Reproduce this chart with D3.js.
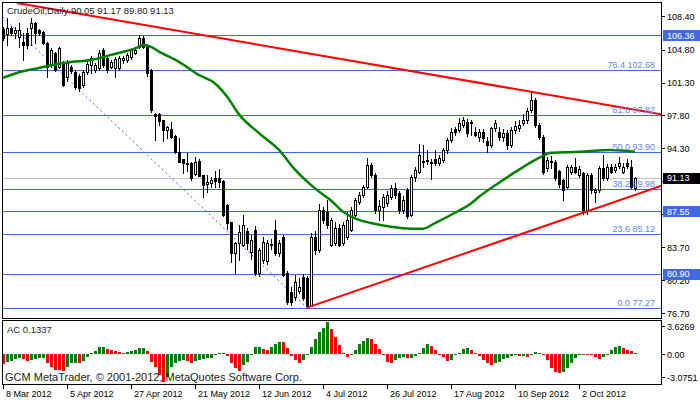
<!DOCTYPE html>
<html>
<head>
<meta charset="utf-8">
<script src="https://cdn.jsdelivr.net/npm/d3@7"></script>
<style>
  body { margin: 0; background: #fff; }
  svg { display: block; }
  text { font-family: "Liberation Sans", Arial, sans-serif; }
</style>
</head>
<body>
<div id="chart"></div>
<script>
// ---- data ----
const dateLabels = ["8 Mar 2012", "5 Apr 2012", "27 Apr 2012", "21 May 2012", "12 Jun 2012",
  "4 Jul 2012", "26 Jul 2012", "17 Aug 2012", "10 Sep 2012", "2 Oct 2012"]
const dateBars = [0, 16, 32, 48, 64, 80, 96, 112, 128, 144]

const opens = [
  107.0,106.5,107.1,106.6,106.2,105.6,106.6,107.1,107.6,106.9,
  106.7,105.5,103.2,104.4,103.0,103.5,101.9,103.0,102.4,102.0,
  101.0,102.4,103.2,102.6,102.9,104.8,103.9,103.0,102.8,102.8,
  103.7,103.7,104.0,104.5,105.1,106.1,105.3,102.6,97.9,97.9,
  97.3,96.2,96.3,95.6,93.9,93.1,92.7,92.7,91.5,92.9,
  91.4,90.5,90.6,91.1,91.1,90.8,88.2,86.4,83.1,84.2,
  84.0,85.4,83.2,85.6,81.0,82.4,82.2,84.1,85.6,83.1,
  84.8,81.0,78.9,78.4,79.0,80.5,80.4,77.5,84.8,83.4,
  87.7,87.5,84.0,84.2,85.8,84.2,84.8,85.6,87.2,88.5,
  89.3,90.1,92.5,91.4,87.7,88.0,88.4,89.1,90.0,89.5,
  87.7,89.8,87.2,91.2,91.8,92.9,92.9,92.8,93.1,92.7,
  93.0,94.1,95.2,96.3,96.2,96.8,97.1,97.0,96.0,95.5,
  96.0,95.1,94.6,96.4,96.0,95.5,95.9,94.6,96.2,96.4,
  97.0,97.3,98.4,99.4,96.8,95.5,92.2,92.8,92.8,91.9,
  90.9,90.2,91.8,92.3,91.4,91.6,87.7,91.4,89.6,89.8,
  92.2,91.1,92.3,92.0,92.4,91.8,92.7,92.3,90.05]
const highs = [
  107.2,108.2,107.3,107.2,107.6,106.6,107.1,108.2,107.8,107.0,
  106.8,105.6,105.0,104.6,105.1,103.6,103.7,103.2,102.6,102.2,
  102.6,103.6,104.1,103.4,104.8,105.0,104.2,103.7,104.0,104.1,
  104.1,104.4,104.9,105.0,106.4,106.3,105.4,102.7,98.0,98.0,
  97.3,96.7,97.1,95.7,95.4,93.1,93.8,92.8,93.3,93.1,
  91.4,91.4,91.2,91.9,92.1,90.9,88.3,86.4,84.3,86.1,
  87.2,85.8,85.0,86.0,83.6,84.8,84.5,84.6,86.6,84.5,
  85.0,81.2,79.5,80.8,80.4,80.9,80.6,85.2,85.5,88.3,
  88.0,88.8,86.8,86.4,86.2,86.4,87.5,88.0,89.0,89.6,
  90.4,93.2,92.7,91.6,88.8,89.4,89.7,90.4,90.6,89.7,
  89.2,90.0,91.4,92.3,94.7,94.6,94.1,93.1,94.1,93.6,
  94.3,95.4,96.4,96.5,97.5,97.6,97.4,97.3,96.6,96.3,
  96.3,95.5,96.6,97.3,96.6,96.3,96.2,96.6,97.2,97.3,
  97.9,98.6,100.4,99.6,97.0,95.7,93.3,93.5,93.0,92.0,
  91.0,92.5,92.5,93.2,92.4,91.8,91.6,91.6,90.0,92.4,
  93.6,92.6,92.6,92.6,93.3,92.7,93.1,93.0,91.17]
const lows = [
  105.8,105.3,106.4,106.0,105.1,103.7,105.0,105.3,105.5,106.4,
  105.4,101.9,103.0,102.5,102.8,100.9,101.5,102.3,100.6,100.4,
  100.8,102.2,102.3,102.4,102.6,103.0,102.4,102.8,101.9,102.6,
  103.4,103.5,103.8,104.3,105.0,105.0,102.0,98.2,95.2,96.8,
  95.1,95.4,95.4,93.8,92.8,91.6,91.9,90.9,91.4,91.3,
  89.1,89.6,90.2,90.2,90.2,87.1,85.7,82.1,81.0,82.4,
  83.9,83.5,82.5,80.8,80.7,82.0,81.9,83.5,82.9,82.8,
  80.6,77.7,77.6,78.1,78.8,78.1,77.27,77.4,83.0,83.2,
  86.3,85.8,83.8,84.0,83.8,84.0,84.6,85.4,87.0,88.3,
  89.1,90.0,91.2,87.4,86.6,86.6,88.1,88.9,89.0,87.4,
  87.4,86.8,87.0,90.8,91.6,92.3,92.6,91.0,92.5,92.5,
  92.8,93.8,94.9,95.7,96.0,96.5,95.6,95.7,95.6,95.1,
  94.9,93.9,94.4,96.1,95.2,95.1,94.2,94.4,95.9,96.1,
  96.8,97.0,98.2,96.6,95.3,91.5,91.9,92.2,90.9,90.2,
  88.8,90.0,91.5,91.6,91.2,87.3,87.3,89.5,88.6,89.6,
  90.9,90.9,91.6,91.7,92.2,91.6,92.2,90.0,89.80]
const closes = [
  106.1,107.1,106.6,106.9,106.9,105.3,105.3,107.6,106.6,106.6,
  105.5,103.0,104.8,102.6,105.0,101.0,103.4,102.5,100.8,100.7,
  102.4,103.3,103.9,103.2,104.5,103.2,102.6,103.5,103.8,103.9,
  103.9,104.2,104.8,104.8,106.1,105.1,102.3,98.4,97.7,97.2,
  96.2,96.5,95.5,93.9,92.8,92.7,92.6,91.1,92.8,91.3,
  90.4,90.7,90.9,90.8,90.7,87.2,86.3,83.1,84.2,85.3,
  86.1,84.2,84.5,81.0,83.4,84.3,84.2,84.0,83.1,84.2,
  80.8,77.9,77.9,80.0,79.5,78.3,77.4,84.8,83.4,87.7,
  86.6,86.1,86.6,85.8,84.0,86.1,86.6,87.7,88.8,89.3,
  90.1,92.5,91.4,87.7,88.1,89.1,89.3,90.0,89.3,87.7,
  88.8,87.0,91.2,92.0,93.6,92.8,93.0,92.7,92.7,93.2,
  94.1,95.2,96.0,96.0,97.0,97.3,95.9,97.1,95.7,96.0,
  95.4,94.6,96.4,97.0,95.5,95.9,94.6,96.2,96.7,96.8,
  97.3,98.3,99.4,96.8,95.5,91.8,93.0,92.9,91.1,90.5,
  89.8,92.3,92.3,91.8,92.1,87.7,91.4,89.8,89.8,92.2,
  91.1,92.3,91.8,92.3,92.7,92.3,92.4,90.2,91.13]

// moving average, read as [bar, price]
const maPoints = [[0,101.8],[4,102.4],[9,102.85],[12,103.15],[17,103.5],[22,103.7],[27,104.25],
  [32,104.8],[34,105.1],[35,105.3],[37,105.1],[39,104.6],[44,103.5],[49,102.1],[53,101.2],
  [56,99.8],[59,97.9],[64,95.9],[69,94.1],[73,92.0],[78,90.0],[82,88.7],[85,87.5],[88,86.8],
  [92,86.3],[97,85.9],[102,85.7],[105,85.7],[108,86.3],[113,87.4],[117,88.4],[119,89.1],
  [124,90.6],[129,92.0],[134,93.25],[137,93.8],[144,93.9],[152,94.1],[158,93.9]]

// accelerator oscillator
const acValues = [
  -1.08,-0.82,-0.71,-0.56,-0.45,-0.56,-0.71,-0.63,-0.56,-0.40,
  -0.35,-1.00,-1.38,-1.68,-1.75,-1.80,-1.38,-1.00,-0.93,-1.00,
  -0.71,-0.26,0.19,0.41,0.78,0.86,0.56,0.48,0.37,0.30,
  0.22,0.30,0.41,0.48,0.67,0.70,0.41,-0.82,-1.38,-2.31,
  -3.0751,-2.50,-1.38,-1.00,-0.71,-0.63,-0.71,-1.00,-0.71,-0.63,
  -0.52,-0.45,-0.37,-0.07,0.19,0.22,-0.15,-0.95,-1.55,-1.85,
  -1.20,-0.80,-0.10,0.86,0.89,0.60,0.48,0.86,1.12,1.42,
  1.38,0.67,-0.15,-0.63,-0.93,-0.63,0.05,0.86,1.71,2.53,
  2.98,3.6269,2.90,1.97,1.04,0.22,-0.26,-0.10,0.45,1.20,
  1.50,1.80,1.75,1.20,0.60,-0.10,-0.80,-1.00,-0.60,-0.40,
  -0.30,-0.40,-0.35,-0.20,0.20,0.70,1.20,1.00,0.50,-0.10,
  -0.30,-0.70,-0.60,-0.10,0.20,0.60,0.70,0.50,0.20,-0.20,
  -0.60,-0.90,-1.20,-1.00,-0.80,-0.50,-0.40,-0.20,-0.10,-0.20,
  -0.15,-0.30,-0.10,0.30,0.20,-0.10,-0.60,-1.50,-2.00,-2.10,
  -2.00,-1.50,-0.90,-0.40,-0.10,0.10,0.05,-0.10,-0.30,-0.50,
  -0.30,0.10,0.50,0.80,1.00,0.70,0.50,0.35,0.1337]

// right axis ticks; 87.30 sits fully under the 87.55 marker in the original
const priceTicks = [108.40, 104.80, 101.30, 97.80, 94.30, 90.80, 87.30, 83.70, 80.20, 76.70]
const hiddenTicks = [87.30]
const acTicks = [3.6269, 0.00, -3.0751]
const acTickLabels = ["3.6269", "0.00", "-3.0751"]
const acTickY = [326, 354, 377]

const fibRatios = ["0.0", "23.6", "38.2", "50.0", "61.8", "76.4"]
const fibPrices = [77.27, 85.12, 89.98, 93.90, 97.82, 102.68]
const levelLines = [106.36, 87.55, 80.90]
const bidPrice = 91.13

// trend lines as [bar, price] anchors
const downTrend = [[3.5, 109.79], [164.5, 97.92]]
const upTrend = [[76, 77.27], [164.5, 90.25]]
const fibBase = [[-5.5, 110.53], [76, 77.27]]

const title = "CrudeOil,Daily  90.05 91.17 89.80 91.13"
const acTitle = "AC 0.1337"
const copyright = "GCM MetaTrader, \u00a9 2001-2012, MetaQuotes Software Corp."

// ---- layout ----
const W = 700, H = 402
const left = 2, right = 661
const mainTop = 2, mainBottom = 318
const subTop = 320, subBottom = 384

const blue = "#4169e1", fibText = "#5f86e8"

const svg = d3.select("#chart").append("svg")
  .attr("width", W).attr("height", H)

const x = d3.scaleLinear().domain([0, 158]).range([3, 635])
const y = d3.scaleLinear().domain([76.70, 108.40]).range([313, 16])
const yAc = d3.scaleLinear().domain([-3.0751, 3.6269]).range([382, 322])

const px = v => Math.round(v) + 0.5

const defs = svg.append("defs")
defs.append("clipPath").attr("id", "clipMain").append("rect")
  .attr("x", left).attr("y", mainTop).attr("width", right - left).attr("height", mainBottom - mainTop)
defs.append("clipPath").attr("id", "clipSub").append("rect")
  .attr("x", left).attr("y", subTop).attr("width", right - left).attr("height", subBottom - subTop)

const main = svg.append("g").attr("clip-path", "url(#clipMain)")

// bid line
main.append("line")
  .attr("x1", left).attr("x2", right)
  .attr("y1", px(y(bidPrice))).attr("y2", px(y(bidPrice)))
  .attr("stroke", "#c0c0c0")

// fibo + level lines
main.selectAll(".hl")
  .data(fibPrices.concat(levelLines))
  .enter().append("line")
  .attr("x1", left).attr("x2", right)
  .attr("y1", d => px(y(d))).attr("y2", d => px(y(d)))
  .attr("stroke", blue).attr("stroke-width", 1)

// dashed fibo base line
main.append("line")
  .attr("x1", x(fibBase[0][0])).attr("y1", y(fibBase[0][1]))
  .attr("x2", x(fibBase[1][0])).attr("y2", y(fibBase[1][1]))
  .attr("stroke", blue).attr("stroke-dasharray", "2,3")

// candles
const bars = d3.range(opens.length)
const cg = main.append("g").attr("shape-rendering", "crispEdges")
cg.selectAll(".wick")
  .data(bars).enter().append("line")
  .attr("x1", i => px(x(i))).attr("x2", i => px(x(i)))
  .attr("y1", i => Math.round(y(highs[i]))).attr("y2", i => Math.round(y(lows[i])) + 1)
  .attr("stroke", "#000")
cg.selectAll(".body")
  .data(bars).enter().append("rect")
  .attr("x", i => px(x(i)) - 1)
  .attr("width", 2)
  .attr("y", i => Math.round(y(Math.max(opens[i], closes[i]))) + 0.5)
  .attr("height", i => Math.max(0, Math.round(y(Math.min(opens[i], closes[i]))) - Math.round(y(Math.max(opens[i], closes[i])))))
  .attr("fill", i => closes[i] >= opens[i] ? "#fff" : "#000")
  .attr("stroke", "#000")

// moving average
main.append("path")
  .datum(maPoints)
  .attr("d", d3.line().x(d => x(d[0])).y(d => y(d[1])).curve(d3.curveMonotoneX))
  .attr("fill", "none").attr("stroke", "#008000").attr("stroke-width", 2.5)

// trend lines
main.selectAll(".trend")
  .data([downTrend, upTrend])
  .enter().append("line")
  .attr("x1", d => x(d[0][0])).attr("y1", d => y(d[0][1]))
  .attr("x2", d => x(d[1][0])).attr("y2", d => y(d[1][1]))
  .attr("stroke", "#ff0000").attr("stroke-width", 2)

// fibo labels
main.selectAll(".fibLabel")
  .data(fibPrices)
  .enter().append("text")
  .attr("x", 655).attr("y", d => y(d) - 2)
  .attr("text-anchor", "end")
  .attr("font-size", 9).attr("fill", fibText)
  .text((d, i) => fibRatios[i] + " " + d.toFixed(2))

// title
svg.append("text").attr("x", 7).attr("y", 14)
  .attr("font-size", 9.5).attr("fill", "#222").text(title)

// ---- AC subwindow ----
const sub = svg.append("g").attr("clip-path", "url(#clipSub)").attr("shape-rendering", "crispEdges")
sub.selectAll(".ac")
  .data(bars).enter().append("rect")
  .attr("x", i => px(x(i)) - 1.5)
  .attr("width", 3)
  .attr("y", i => Math.min(yAc(0), yAc(acValues[i])))
  .attr("height", i => Math.max(1, Math.abs(yAc(acValues[i]) - yAc(0))))
  .attr("fill", (d, i) => (i > 0 && acValues[i] > acValues[i - 1]) ? "#008000" : "#ff0000")

svg.append("text").attr("x", 7).attr("y", 333)
  .attr("font-size", 9.5).attr("fill", "#222").text(acTitle)
svg.append("text").attr("x", 5).attr("y", 381)
  .attr("font-size", 11).attr("fill", "#222").text(copyright)

// ---- frames ----
const frame = svg.append("g").attr("fill", "none").attr("stroke", "#000").attr("shape-rendering", "crispEdges")
frame.append("rect").attr("x", left + 0.5).attr("y", mainTop + 0.5)
  .attr("width", right - left).attr("height", mainBottom - mainTop)
frame.append("rect").attr("x", left + 0.5).attr("y", subTop + 0.5)
  .attr("width", right - left).attr("height", subBottom - subTop)

// ---- right axis ----
const axisG = svg.append("g")
axisG.selectAll(".pt")
  .data(priceTicks).enter().append("line")
  .attr("x1", right).attr("x2", right + 4)
  .attr("y1", d => px(y(d))).attr("y2", d => px(y(d)))
  .attr("stroke", "#000")
axisG.selectAll(".ptl")
  .data(priceTicks.filter(d => !hiddenTicks.includes(d))).enter().append("text")
  .attr("x", 667).attr("y", d => y(d) + 3.5)
  .attr("font-size", 9).attr("fill", "#000")
  .text(d => d.toFixed(2))

axisG.selectAll(".at")
  .data(acTicks).enter().append("line")
  .attr("x1", right).attr("x2", right + 4)
  .attr("y1", (d, i) => px(acTickY[i])).attr("y2", (d, i) => px(acTickY[i]))
  .attr("stroke", "#000")
axisG.selectAll(".atl")
  .data(acTicks).enter().append("text")
  .attr("x", 667).attr("y", (d, i) => acTickY[i] + 3.5)
  .attr("font-size", 9).attr("fill", "#000")
  .text((d, i) => acTickLabels[i])

// price markers on the axis
const boxes = levelLines.map(v => ({ v: v, fill: blue })).concat([{ v: bidPrice, fill: "#000" }])
const bg = axisG.selectAll(".box").data(boxes).enter().append("g")
bg.append("rect")
  .attr("x", right + 2).attr("y", d => Math.round(y(d.v)) - 5)
  .attr("width", W - right - 2).attr("height", 11)
  .attr("fill", d => d.fill)
bg.append("text")
  .attr("x", 667).attr("y", d => y(d.v) + 3.5)
  .attr("font-size", 9).attr("fill", "#fff")
  .text(d => d.v.toFixed(2))

// ---- date axis ----
const dg = svg.append("g")
dg.selectAll(".dt")
  .data(dateBars).enter().append("line")
  .attr("x1", d => px(x(d))).attr("x2", d => px(x(d)))
  .attr("y1", subBottom).attr("y2", subBottom + 5)
  .attr("stroke", "#000")
dg.selectAll(".dtl")
  .data(dateBars).enter().append("text")
  .attr("x", d => x(d) + 3).attr("y", 397)
  .attr("font-size", 9).attr("fill", "#000")
  .text((d, i) => dateLabels[i])
</script>
</body>
</html>
